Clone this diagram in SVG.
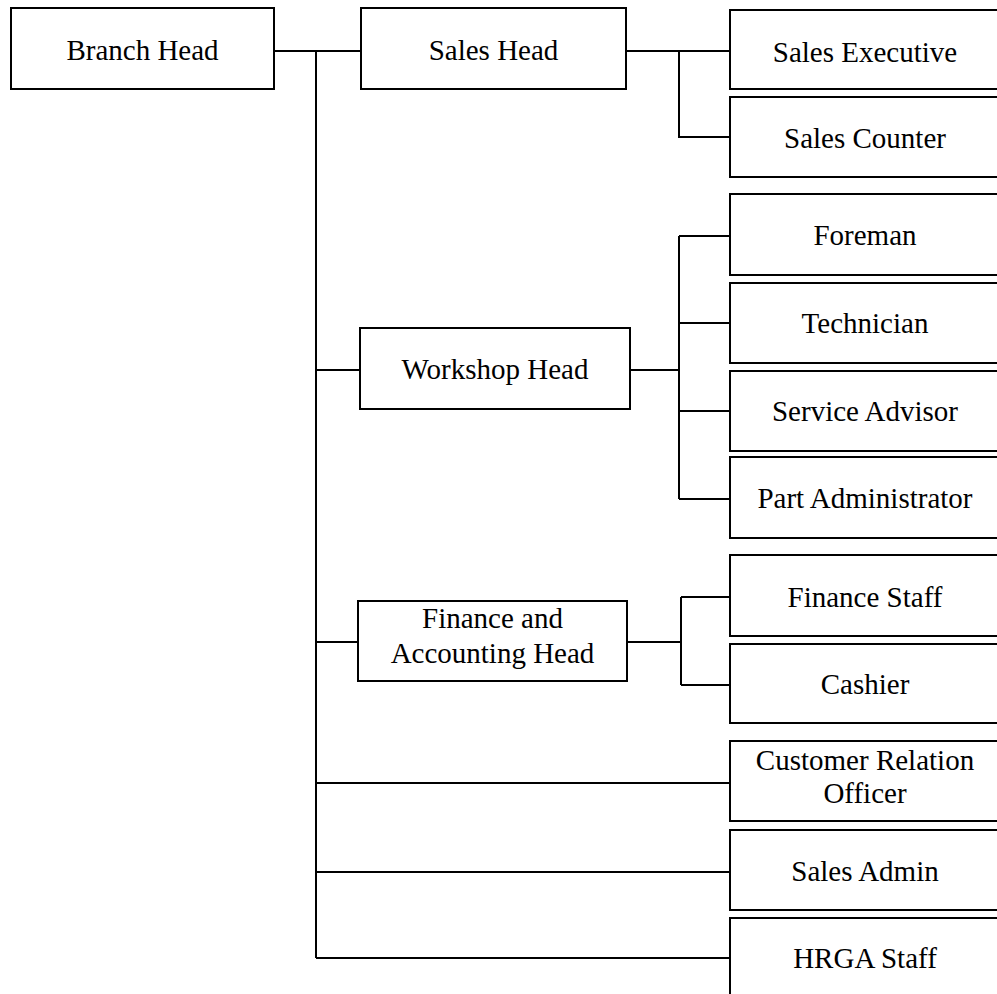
<svg xmlns="http://www.w3.org/2000/svg" width="997" height="994" viewBox="0 0 997 994">
<style>
.box{fill:#fff;stroke:#000;stroke-width:2}
.lbl{font-family:"Liberation Serif","Times New Roman",serif;font-size:29px;fill:#000;text-anchor:middle}
.con{fill:none;stroke:#000;stroke-width:2}
</style>
<rect width="997" height="994" fill="#fff"/>
<g id="connectors" class="con">
<path d="M274 51H361"/>
<path d="M316 51V958"/>
<path d="M316 370H360"/>
<path d="M316 642H358"/>
<path d="M316 783H730"/>
<path d="M316 872H730"/>
<path d="M316 958H730"/>
<path d="M626 51H730"/>
<path d="M679 51V137H730"/>
<path d="M630 370H679"/>
<path d="M679 236V499"/>
<path d="M679 236H730"/>
<path d="M679 323H730"/>
<path d="M679 411H730"/>
<path d="M679 499H730"/>
<path d="M627 642H681"/>
<path d="M681 597V685"/>
<path d="M681 597H730"/>
<path d="M681 685H730"/>
</g>
<g id="branch-head"><rect class="box" x="11" y="8" width="263" height="81"/><text class="lbl" x="142.5" y="60">Branch Head</text></g>
<g id="sales-head"><rect class="box" x="361" y="8" width="265" height="81"/><text class="lbl" x="493.5" y="60">Sales Head</text></g>
<g id="sales-executive"><rect class="box" x="730" y="10" width="275" height="79"/><text class="lbl" x="865" y="62">Sales Executive</text></g>
<g id="sales-counter"><rect class="box" x="730" y="97" width="275" height="80"/><text class="lbl" x="865" y="148">Sales Counter</text></g>
<g id="foreman"><rect class="box" x="730" y="194" width="275" height="81"/><text class="lbl" x="865" y="245">Foreman</text></g>
<g id="technician"><rect class="box" x="730" y="283" width="275" height="80"/><text class="lbl" x="865" y="333">Technician</text></g>
<g id="service-advisor"><rect class="box" x="730" y="371" width="275" height="80"/><text class="lbl" x="865" y="421">Service Advisor</text></g>
<g id="part-administrator"><rect class="box" x="730" y="457" width="275" height="81"/><text class="lbl" x="865" y="508">Part Administrator</text></g>
<g id="workshop-head"><rect class="box" x="360" y="328" width="270" height="81"/><text class="lbl" x="495" y="379">Workshop Head</text></g>
<g id="finance-staff"><rect class="box" x="730" y="555" width="275" height="81"/><text class="lbl" x="865" y="607">Finance Staff</text></g>
<g id="cashier"><rect class="box" x="730" y="644" width="275" height="79"/><text class="lbl" x="865" y="694">Cashier</text></g>
<g id="finance-head"><rect class="box" x="358" y="601" width="269" height="80"/><text class="lbl" x="492.5" y="628">Finance and</text><text class="lbl" x="492.5" y="663">Accounting Head</text></g>
<g id="customer-relation-officer"><rect class="box" x="730" y="741" width="275" height="80"/><text class="lbl" x="865" y="770">Customer Relation</text><text class="lbl" x="865" y="803">Officer</text></g>
<g id="sales-admin"><rect class="box" x="730" y="830" width="275" height="80"/><text class="lbl" x="865" y="881">Sales Admin</text></g>
<g id="hrga-staff"><rect class="box" x="730" y="918" width="275" height="90"/><text class="lbl" x="865" y="968">HRGA Staff</text></g>
</svg>
